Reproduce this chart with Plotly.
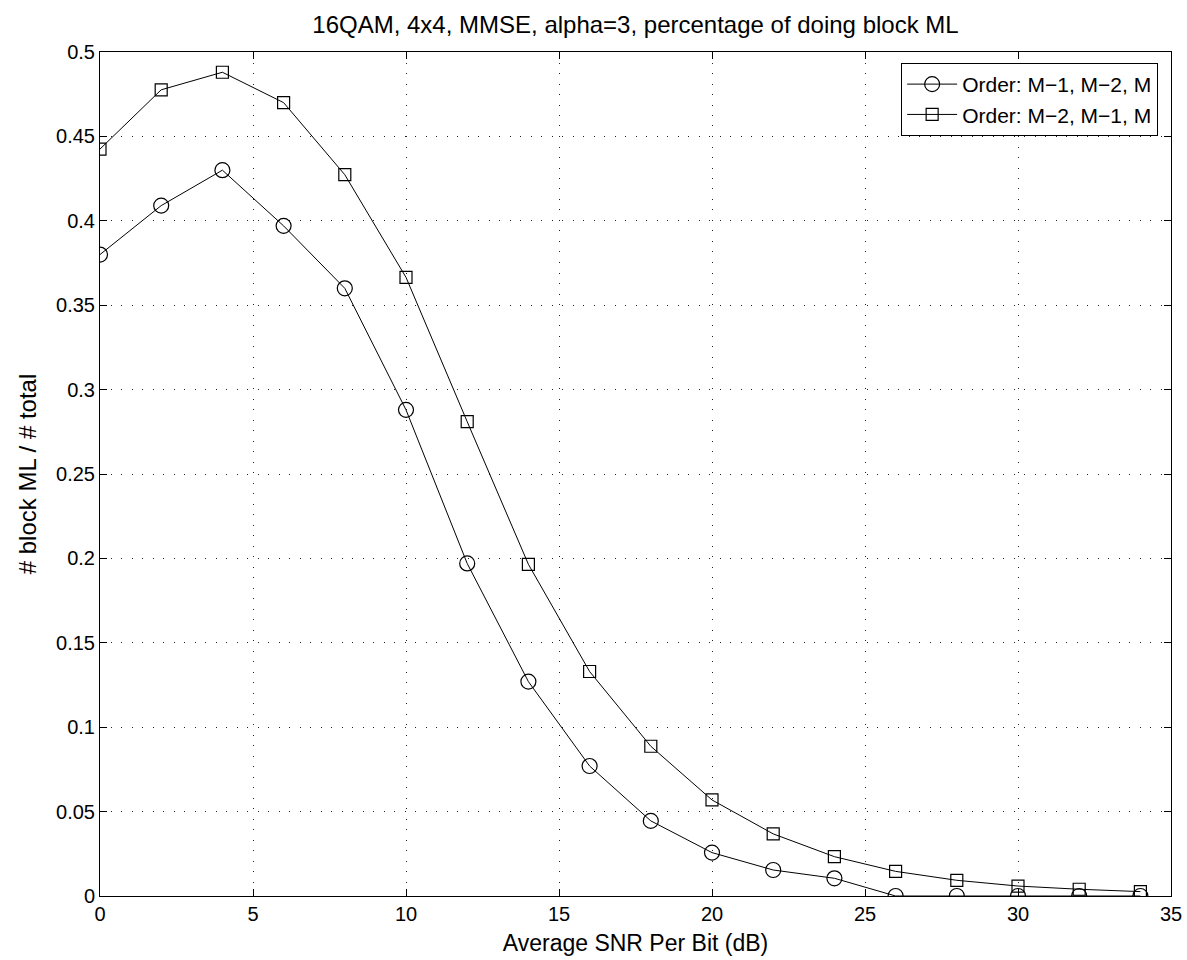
import plotly.graph_objects as go

snr = [0, 2, 4, 6, 8, 10, 12, 14, 16, 18, 20, 22, 24, 26, 28, 30, 32, 34]
order_m1_m2_m = [0.380, 0.409, 0.430, 0.397, 0.360, 0.288, 0.197, 0.127, 0.077,
                 0.0445, 0.0257, 0.0154, 0.0105, 0.0, 0.0, 0.0, 0.0, 0.0]
order_m2_m1_m = [0.4425, 0.4776, 0.488, 0.470, 0.4273, 0.3665, 0.281, 0.1965, 0.133,
                 0.0887, 0.0569, 0.0368, 0.0233, 0.0146, 0.0093, 0.0059, 0.0040, 0.0026]

x_ticks = [0, 5, 10, 15, 20, 25, 30, 35]
y_ticks = [0, 0.05, 0.1, 0.15, 0.2, 0.25, 0.3, 0.35, 0.4, 0.45, 0.5]
y_tick_text = ["0", "0.05", "0.1", "0.15", "0.2", "0.25", "0.3", "0.35", "0.4", "0.45", "0.5"]

FONT = "Liberation Sans, Arial, Helvetica, sans-serif"

fig = go.Figure()
fig.add_trace(go.Scatter(
    x=snr, y=order_m1_m2_m, mode="lines+markers",
    name="Order: M\u22121, M\u22122, M",
    line=dict(color="black", width=1),
    marker=dict(symbol="circle-open", size=15, color="black", line=dict(width=1.2, color="black")),
))
fig.add_trace(go.Scatter(
    x=snr, y=order_m2_m1_m, mode="lines+markers",
    name="Order: M\u22122, M\u22121, M",
    line=dict(color="black", width=1),
    marker=dict(symbol="square-open", size=12, color="black", line=dict(width=1.2, color="black")),
))

axis_common = dict(
    showline=True, linecolor="black", linewidth=1, mirror="ticks",
    ticks="inside", ticklen=7, tickcolor="black",
    showgrid=True, gridcolor="#222", gridwidth=1, griddash="1px,9.5px",
    zeroline=False, automargin=False,
    tickfont=dict(family=FONT, size=20, color="black"),
)

fig.update_xaxes(range=[0, 35], tickvals=x_ticks,
                 title=dict(text="Average SNR Per Bit (dB)", font=dict(family=FONT, size=23, color="black"), standoff=10),
                 **axis_common)
fig.update_yaxes(range=[0, 0.5], tickvals=y_ticks, ticktext=y_tick_text,
                 title=dict(text="# block ML / # total", font=dict(family=FONT, size=24, color="black"), standoff=12),
                 **axis_common)

fig.update_layout(
    width=1187, height=960,
    margin=dict(l=100, r=16, t=52, b=64),
    paper_bgcolor="white", plot_bgcolor="white",
    title=dict(text="16QAM, 4x4, MMSE, alpha=3, percentage of doing block ML",
               font=dict(family=FONT, size=24, color="black"),
               x=(100 + 1171) / 2 / 1187, xanchor="center",
               y=1 - 25 / 960, yanchor="middle", yref="container"),
    legend=dict(x=0.988, y=0.987, xanchor="right", yanchor="top",
                bordercolor="black", borderwidth=1, bgcolor="white",
                font=dict(family=FONT, size=21, color="black"),
                tracegroupgap=0, itemwidth=50),
    showlegend=True,
)

fig.write_html("out.html")
